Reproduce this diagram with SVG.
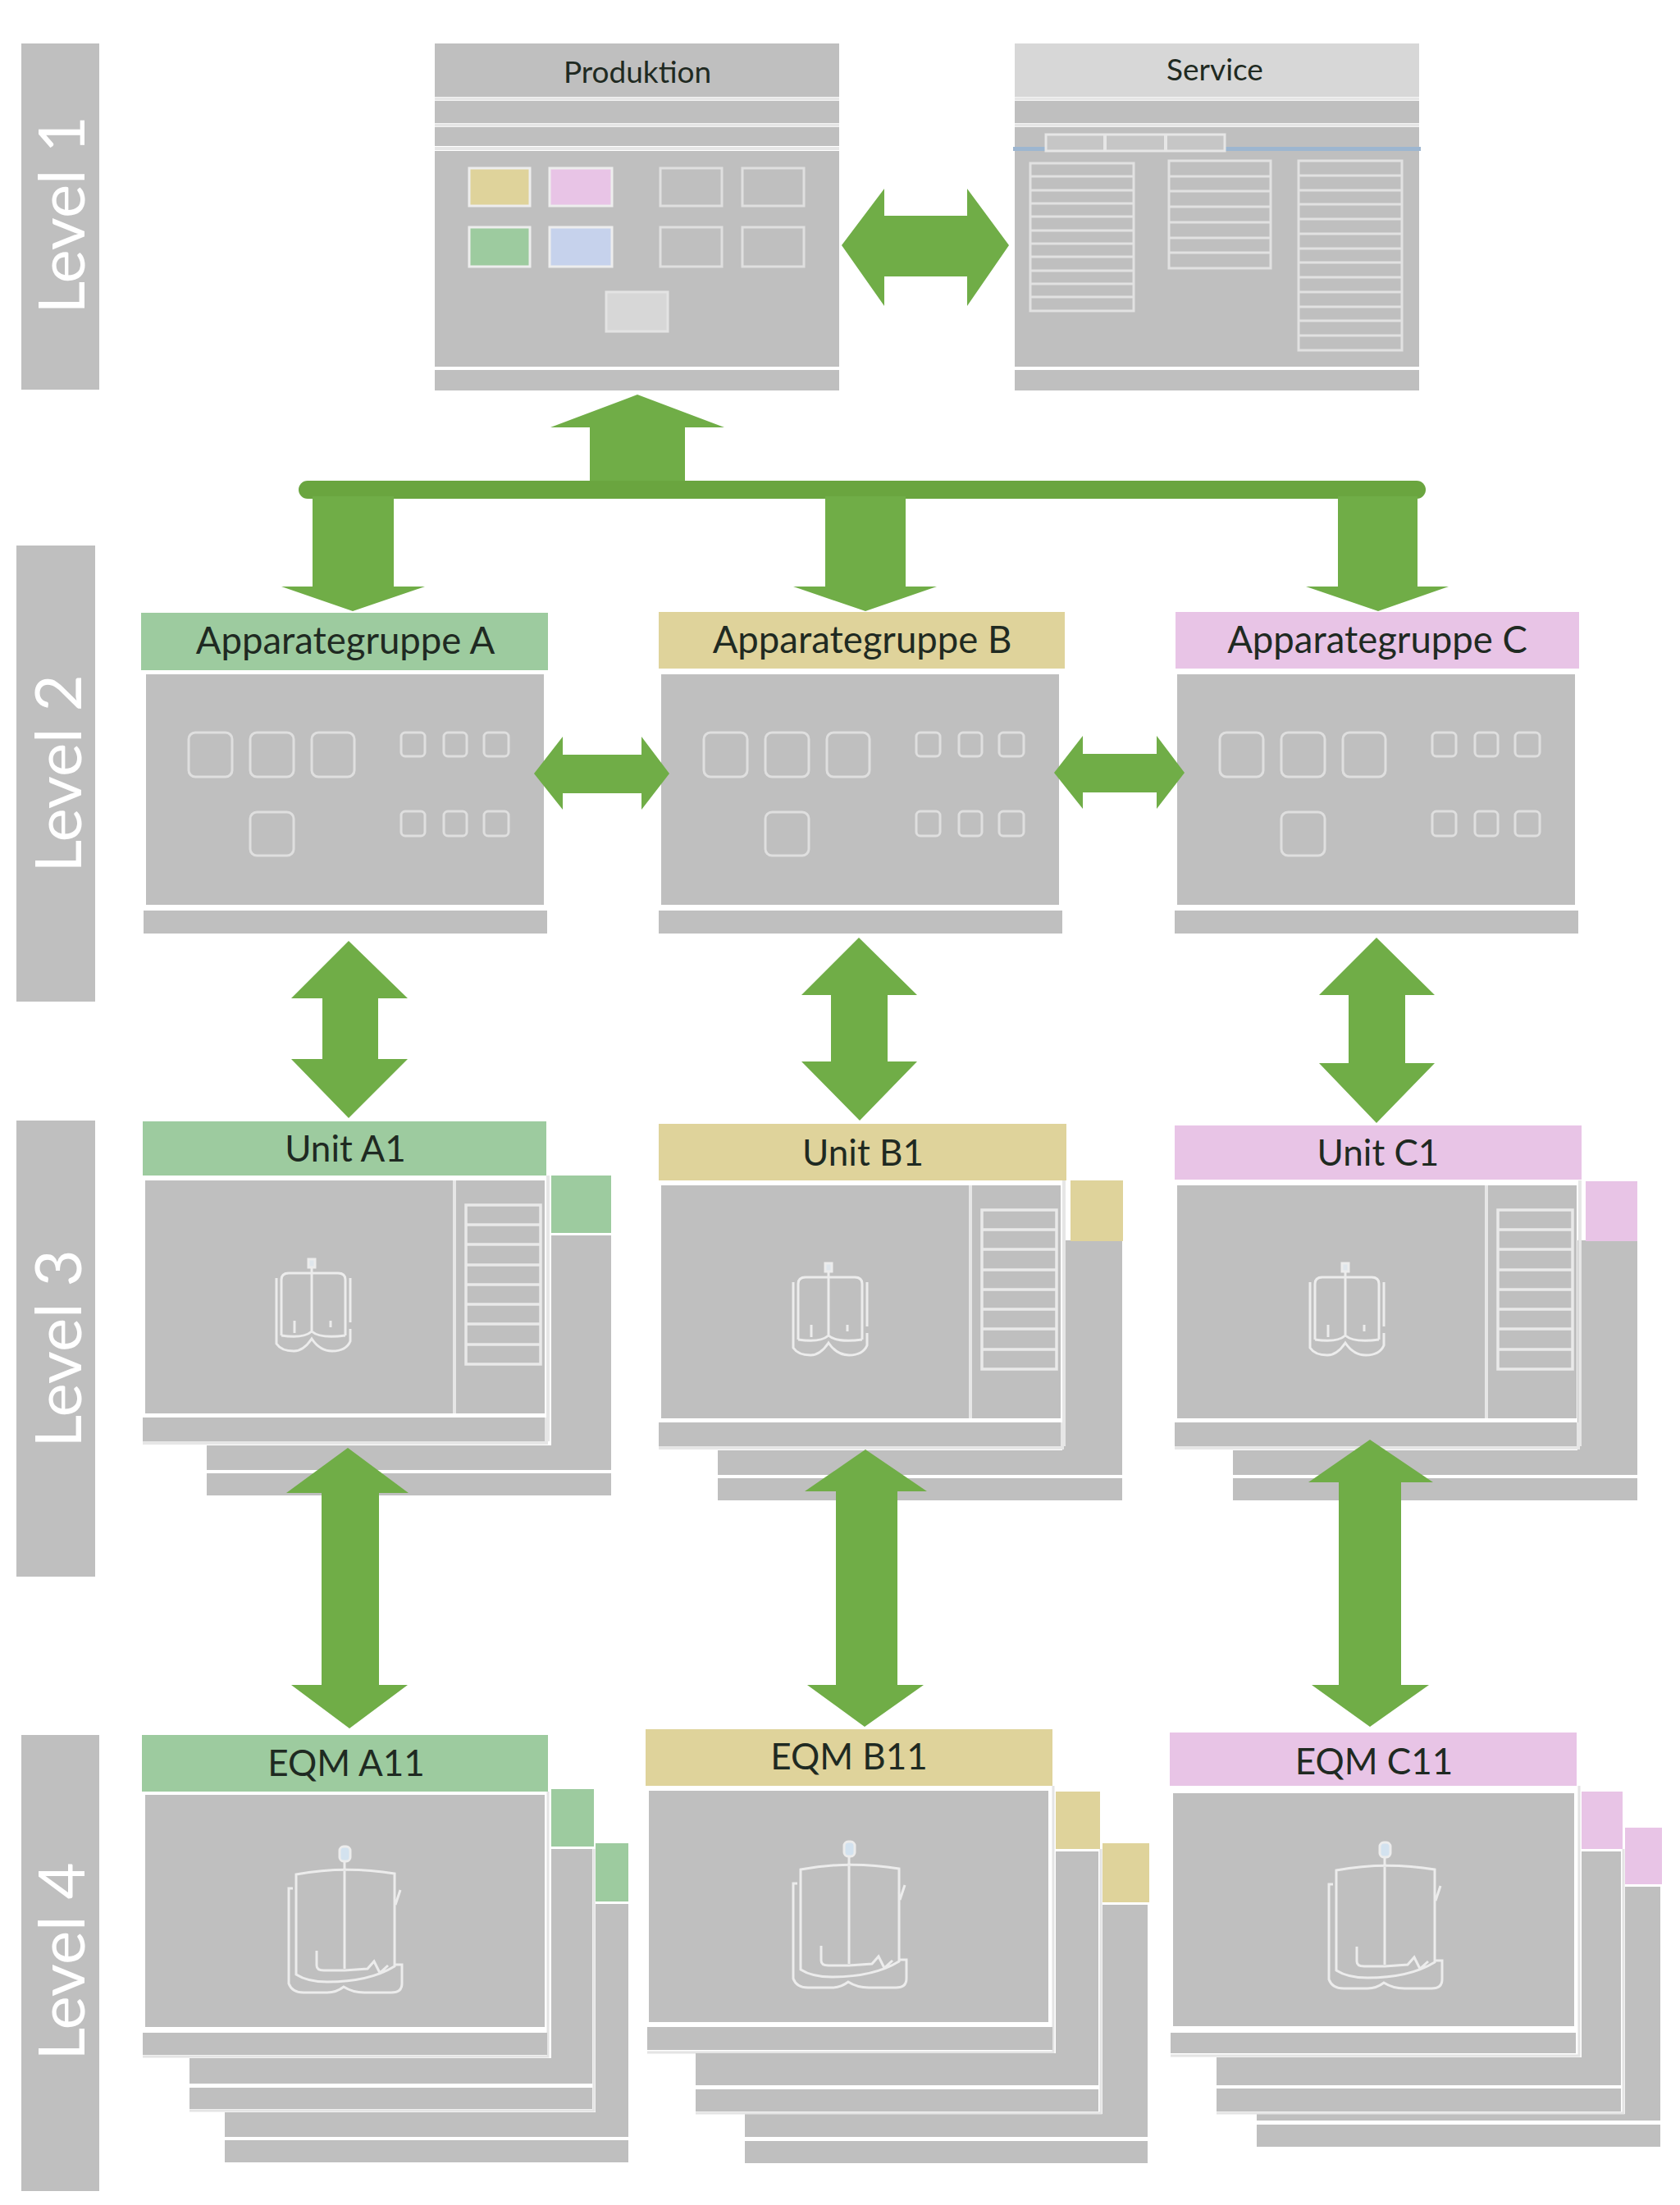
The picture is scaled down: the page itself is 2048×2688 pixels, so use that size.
<svg xmlns="http://www.w3.org/2000/svg" width="2048" height="2688" viewBox="0 0 2048 2688">
<style>
.g{fill:#bfbfbf}
.lg{fill:#d7d7d7}
.ln{fill:none;stroke:#e6e6e6;stroke-width:4}
.s{fill:none;stroke:#dfdfdf;stroke-width:3}
.l{fill:none;stroke:#e1e1e1;stroke-width:3}
.w{fill:none;stroke:#e9e9e9;stroke-width:3.500}
.v{fill:none;stroke:#ececec;stroke-width:3}
.e{fill:none;stroke:#e4e4e4;stroke-width:3}
.a{fill:#9dcb9f}.b{fill:#dfd39b}.c{fill:#e8c4e6}.d{fill:#c6d2ec}
.ar{fill:#70ad47}
.lv{font-family:"Lato","Liberation Sans",sans-serif;font-weight:400;font-size:78px;fill:#fff;text-anchor:middle}
.t{font-family:"Lato","Liberation Sans",sans-serif;fill:#1f2a22;text-anchor:middle}
.t1{font-size:37px}.t2{font-size:45.500px}.t3{font-size:44px}.t4{font-size:44px}
</style>
<defs>
<g id="l2body">
<rect class="g" x="178" y="822" width="485" height="281"/>
<rect class="g" x="175" y="1110" width="492" height="28"/>
<g class="s">
<rect x="230" y="893" width="53" height="54" rx="8"/><rect x="305" y="893" width="53" height="54" rx="8"/><rect x="380" y="893" width="52" height="54" rx="8"/>
<rect x="305" y="990" width="53" height="53" rx="8"/>
<rect x="489" y="893" width="29" height="29" rx="5"/><rect x="541" y="893" width="28" height="29" rx="5"/><rect x="590" y="893" width="30" height="29" rx="5"/>
<rect x="489" y="989" width="29" height="30" rx="5"/><rect x="541" y="989" width="28" height="30" rx="5"/><rect x="590" y="989" width="30" height="30" rx="5"/>
</g>
</g>
<g id="l3back">
<rect class="g" x="672" y="1506" width="73" height="286"/>
<rect class="g" x="252" y="1762" width="493" height="30"/>
<rect class="g" x="252" y="1796" width="493" height="27"/>
</g>
<g id="l3front">
<rect class="g" x="177" y="1439" width="487" height="284"/>
<rect class="g" x="174" y="1728" width="492" height="29"/>
<path class="ln" d="M554 1439V1723M174 1759H666V1728M668 1433V1757"/>
<path class="w" d="M568 1469H659V1663H568ZM568 1493H659M568 1517H659M568 1542H659M568 1566H659M568 1590H659M568 1614H659M568 1639H659"/>
</g>
<g id="vessel3">
<rect x="-4" y="0" width="8" height="10" fill="#dfe6ec" stroke="#ececec" stroke-width="3"/>
<path class="v" d="M0 10V87M-37 93V25Q-37 17 -28 17H32Q41 17 41 25V93M-43 23V103Q-37 112 -22 112Q-10 112 0 97Q10 112 25 112Q42 112 47 100V85M-37 93Q-10 97 0 88Q10 97 41 93M-21 75V90M23 75V83M47 23V77"/>
</g>
<g id="vessel">
<rect x="-6" y="0" width="13" height="18" rx="5" fill="#d3e2ef" stroke="#ececec" stroke-width="3"/>
<path class="v" d="M0 18V149M-59 156V34Q0 23 61 33V146Q30 165 -21 165Q-45 165 -59 156ZM-63 51H-68V167Q-64 178 -50 178H-21Q-10 178 -1 171Q10 178 24 178H57Q70 178 70 167V144H62M-34 127V145Q-34 151 -25 151H0L28 149L36 140L43 154L53 145M68 53L62 71"/>
</g>
</defs>
<rect width="2048" height="2688" fill="#fff"/>

<g id="level1"><rect class="g" x="26" y="53" width="95" height="422"/><text class="lv" transform="translate(103 262) rotate(-90)">Level 1</text></g>
<g id="level2"><rect class="g" x="20" y="665" width="96" height="556"/><text class="lv" transform="translate(99 943) rotate(-90)">Level 2</text></g>
<g id="level3"><rect class="g" x="20" y="1366" width="96" height="556"/><text class="lv" transform="translate(99 1644) rotate(-90)">Level 3</text></g>
<g id="level4"><rect class="g" x="26" y="2115" width="95" height="556"/><text class="lv" transform="translate(103 2391) rotate(-90)">Level 4</text></g>

<g id="produktion">
<rect class="g" x="530" y="53" width="493" height="65"/>
<rect class="g" x="530" y="123" width="493" height="27"/>
<rect class="g" x="530" y="155" width="493" height="23"/>
<rect class="g" x="530" y="184" width="493" height="263"/>
<rect class="g" x="530" y="451" width="493" height="25"/>
<path class="ln" d="M530 120.500H1023M530 152.500H1023M530 181H1023"/>
<rect class="b" x="572" y="205" width="74" height="46" stroke="#ededed" stroke-width="3"/>
<rect class="c" x="670" y="205" width="76" height="46" stroke="#ededed" stroke-width="3"/>
<rect class="s" x="805" y="205" width="75" height="46"/>
<rect class="s" x="905" y="205" width="75" height="46"/>
<rect class="a" x="572" y="277" width="74" height="48" stroke="#ededed" stroke-width="3"/>
<rect class="d" x="670" y="277" width="76" height="48" stroke="#ededed" stroke-width="3"/>
<rect class="s" x="805" y="277" width="75" height="48"/>
<rect class="s" x="905" y="277" width="75" height="48"/>
<rect class="lg" x="739" y="356" width="75" height="48" stroke="#e3e3e3" stroke-width="3"/>
<text class="t t1" x="777" y="101">Produktion</text>
</g>

<g id="service">
<rect class="lg" x="1237" y="53" width="493" height="65"/>
<rect class="g" x="1237" y="123" width="493" height="27"/>
<rect class="g" x="1237" y="155" width="493" height="25"/>
<rect class="g" x="1237" y="184" width="493" height="263"/>
<rect class="g" x="1237" y="451" width="493" height="25"/>
<rect x="1235" y="179" width="497" height="5" fill="#9db6d0"/>
<path class="ln" d="M1237 120.500H1730M1237 152.500H1730"/>
<rect x="1275" y="164" width="218" height="20" fill="#c6c6c6" stroke="#e6e6e6" stroke-width="3"/>
<path class="ln" d="M1347 164V184M1421 164V184"/>
<path class="l" d="M1256 199H1382V379H1256ZM1256 215H1382M1256 232H1382M1256 248H1382M1256 264H1382M1256 281H1382M1256 297H1382M1256 313H1382M1256 330H1382M1256 346H1382M1256 362H1382"/>
<path class="l" d="M1425 196H1549V327H1425ZM1425 215H1549M1425 233H1549M1425 252H1549M1425 271H1549M1425 290H1549M1425 308H1549"/>
<path class="l" d="M1583 196H1709V427H1583ZM1583 214H1709M1583 232H1709M1583 249H1709M1583 267H1709M1583 285H1709M1583 303H1709M1583 320H1709M1583 338H1709M1583 356H1709M1583 374H1709M1583 391H1709M1583 409H1709"/>
<text class="t t1" x="1481" y="98">Service</text>
</g>

<g id="apparategruppe-a"><rect class="a" x="172" y="747" width="496" height="70"/><use href="#l2body"/><text class="t t2" x="421" y="797">Apparategruppe A</text></g>
<g id="apparategruppe-b"><rect class="b" x="803" y="746" width="495" height="69"/><use href="#l2body" x="628"/><text class="t t2" x="1051" y="796">Apparategruppe B</text></g>
<g id="apparategruppe-c"><rect class="c" x="1433" y="746" width="492" height="69"/><use href="#l2body" x="1257"/><text class="t t2" x="1679" y="796">Apparategruppe C</text></g>

<g id="unit-a1"><use href="#l3back"/><rect class="a" x="174" y="1367" width="492" height="66"/><rect class="a" x="672" y="1433" width="73" height="70"/><use href="#l3front"/><use href="#vessel3" transform="translate(380 1535)"/><text class="t t3" x="421" y="1416">Unit A1</text></g>
<g id="unit-b1"><use href="#l3back" transform="translate(623 6)"/><rect class="b" x="803" y="1370" width="497" height="69"/><rect class="b" x="1305" y="1439" width="64" height="74"/><use href="#l3front" transform="translate(629 6)"/><use href="#vessel3" transform="translate(1010 1540)"/><text class="t t3" x="1052" y="1421">Unit B1</text></g>
<g id="unit-c1"><use href="#l3back" transform="translate(1251 6)"/><rect class="c" x="1432" y="1372" width="496" height="66"/><rect class="c" x="1933" y="1440" width="63" height="73"/><use href="#l3front" transform="translate(1258 6)"/><use href="#vessel3" transform="translate(1640 1540)"/><text class="t t3" x="1680" y="1421">Unit C1</text></g>

<g id="eqm-a11">
<rect class="g" x="726" y="2321" width="40" height="284"/><rect class="g" x="274" y="2575" width="492" height="30"/><rect class="g" x="274" y="2609" width="492" height="27"/>
<rect class="a" x="726" y="2247" width="40" height="71"/>
<path class="e" d="M724 2254V2573H231M668 2184V2507H174"/>
<rect class="g" x="672" y="2254" width="50" height="286"/><rect class="g" x="231" y="2509" width="491" height="31"/><rect class="g" x="231" y="2545" width="491" height="26"/>
<rect class="a" x="672" y="2181" width="52" height="70"/>
<rect class="a" x="173" y="2115" width="495" height="69"/>
<rect class="g" x="177" y="2188" width="487" height="283"/><rect class="g" x="174" y="2478" width="493" height="27"/>
<use href="#vessel" transform="translate(420 2251)"/>
<text class="t t4" x="422" y="2165">EQM A11</text></g>

<g id="eqm-b11">
<rect class="g" x="1344" y="2322" width="55" height="283"/><rect class="g" x="908" y="2577" width="491" height="28"/><rect class="g" x="908" y="2610" width="491" height="27"/>
<rect class="b" x="1344" y="2247" width="57" height="72"/>
<path class="e" d="M1342 2254V2576H848M1284 2177V2502H789"/>
<rect class="g" x="1287" y="2257" width="52" height="285"/><rect class="g" x="848" y="2503" width="491" height="39"/><rect class="g" x="848" y="2547" width="491" height="27"/>
<rect class="b" x="1287" y="2184" width="54" height="70"/>
<rect class="b" x="787" y="2108" width="496" height="69"/>
<rect class="g" x="791" y="2183" width="487" height="282"/><rect class="g" x="789" y="2471" width="494" height="28"/>
<use href="#vessel" transform="translate(1035 2245)"/>
<text class="t t4" x="1035" y="2157">EQM B11</text></g>

<g id="eqm-c11">
<rect class="g" x="1981" y="2300" width="43" height="285"/><rect class="g" x="1532" y="2577" width="492" height="8"/><rect class="g" x="1532" y="2590" width="492" height="27"/>
<rect class="c" x="1981" y="2228" width="45" height="69"/>
<path class="e" d="M1979 2254V2576H1483M1925 2177V2506H1427"/>
<rect class="g" x="1928" y="2257" width="48" height="285"/><rect class="g" x="1483" y="2508" width="493" height="34"/><rect class="g" x="1483" y="2546" width="493" height="28"/>
<rect class="c" x="1928" y="2184" width="50" height="70"/>
<rect class="c" x="1426" y="2112" width="496" height="65"/>
<rect class="g" x="1430" y="2186" width="489" height="284"/><rect class="g" x="1427" y="2478" width="494" height="25"/>
<use href="#vessel" transform="translate(1688 2246)"/>
<text class="t t4" x="1675" y="2163">EQM C11</text></g>

<g id="connectors">
<polygon class="ar" points="1026,299 1078,230 1078,263 1179,263 1179,230 1230,299 1179,373 1179,337 1078,337 1078,373"/>
<polygon class="ar" points="777,481 883,521 835,521 835,590 719,590 719,521 671,521"/>
<rect x="364" y="586" width="1374" height="22" rx="11" fill="#6aa53f"/>
<polygon class="ar" points="381,605 480,605 480,715 518,715 430,745 343,715 381,715"/>
<polygon class="ar" points="1006,605 1104,605 1104,715 1142,715 1055,745 967,715 1006,715"/>
<polygon class="ar" points="1631,605 1728,605 1728,715 1766,715 1680,745 1592,715 1631,715"/>
<polygon class="ar" points="651,943 686,898 686,920 782,920 782,898 816,943 782,987 782,967 686,967 686,987"/>
<polygon class="ar" points="1285,942 1320,897 1320,919 1410,919 1410,897 1444,942 1410,986 1410,966 1320,966 1320,986"/>
<polygon class="ar" points="425,1147 497,1217 461,1217 461,1291 497,1291 425,1363 355,1291 393,1291 393,1217 355,1217"/>
<polygon class="ar" points="1047,1143 1118,1213 1082,1213 1082,1294 1118,1294 1048,1366 977,1294 1013,1294 1013,1213 977,1213"/>
<polygon class="ar" points="1678,1143 1749,1213 1713,1213 1713,1296 1749,1296 1678,1369 1608,1296 1644,1296 1644,1213 1608,1213"/>
<polygon class="ar" points="424,1765 498,1820 462,1820 462,2054 497,2054 426,2107 355,2054 392,2054 392,1820 349,1820"/>
<polygon class="ar" points="1055,1767 1130,1818 1094,1818 1094,2054 1126,2054 1054,2105 984,2054 1019,2054 1019,1818 981,1818"/>
<polygon class="ar" points="1670,1755 1747,1807 1708,1807 1708,2054 1742,2054 1670,2105 1599,2054 1632,2054 1632,1807 1595,1807"/>
</g>
</svg>
